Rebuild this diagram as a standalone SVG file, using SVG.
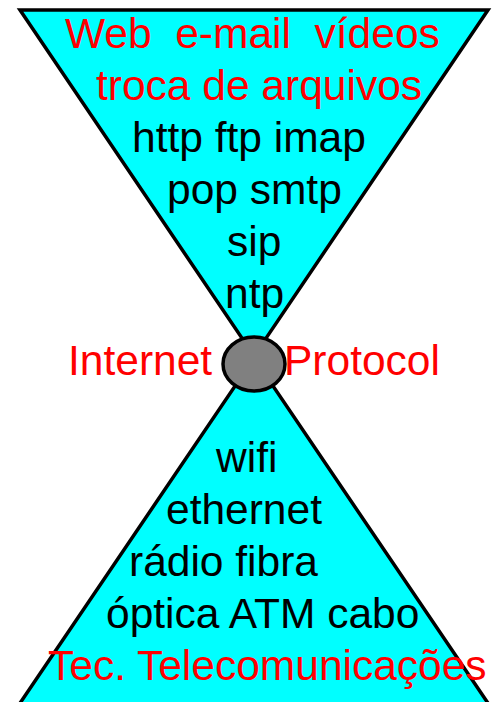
<svg xmlns="http://www.w3.org/2000/svg" width="495" height="702" viewBox="0 0 495 702">
<style>
.shape{fill:#00FFFF;stroke:#000;stroke-width:3.5;stroke-linejoin:miter}
.t{font-family:"Liberation Sans",Arial,sans-serif;font-size:42.5px}
.r{fill:#FF0000}
.k{fill:#000}
</style>
<rect x="0" y="0" width="495" height="702" fill="#fff"/>
<g id="apps">
<polygon class="shape" points="20,10 488,10 254,356"/>
<text class="t r" x="65" y="48" xml:space="preserve">Web  e-mail  vídeos</text>
<text class="t r" x="96" y="100">troca de arquivos</text>
<text class="t k" x="132" y="152">http ftp imap</text>
<text class="t k" x="167" y="204">pop smtp</text>
<text class="t k" x="227" y="256">sip</text>
<text class="t k" x="225" y="308">ntp</text>
</g>
<g id="links">
<polygon class="shape" points="254,358 494,712 14,712"/>
<text class="t k" x="216" y="472">wifi</text>
<text class="t k" x="166" y="524">ethernet</text>
<text class="t k" x="129" y="576">rádio fibra</text>
<text class="t k" x="106" y="628">óptica ATM cabo</text>
<text class="t r" x="48" y="680">Tec. Telecomunicações</text>
</g>
<g id="ip">
<ellipse cx="254" cy="364" rx="31" ry="27" fill="#808080" stroke="#000" stroke-width="3.5"/>
<text class="t r" x="68" y="375">Internet</text>
<text class="t r" x="284" y="375">Protocol</text>
</g>
</svg>
